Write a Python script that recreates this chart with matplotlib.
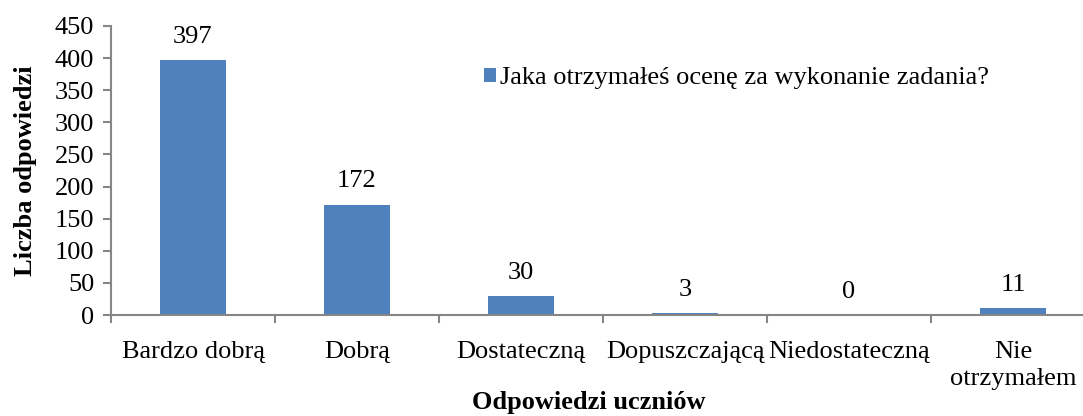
import matplotlib.pyplot as plt
import numpy as np
import matplotlib

matplotlib.rcParams.update({
    'font.family': 'serif',
    'font.serif': ['Liberation Serif', 'DejaVu Serif'],
    'font.size': 19,
})

categories = ['Bardzo dobrą', 'Dobrą', 'Dostateczną', 'Dopuszczającą',
              'Niedostateczną', 'Nie\notrzymałem']
values = [397, 172, 30, 3, 0, 11]
series_name = 'Jaka otrzymałeś ocenę za wykonanie zadania?'
yticks = np.arange(0, 451, 50)

bar_color = '#4F81BD'
axis_color = '#868686'

fig = plt.figure(figsize=(10.83, 4.16), dpi=100)
ax = fig.add_axes([111/1083, 1 - 315/416, (1095 - 111)/1083, (315 - 26)/416])

x = np.arange(len(categories))
bars = ax.bar(x, values, width=0.4, color=bar_color, label=series_name, zorder=2)

for xi, v in zip(x, values):
    ax.annotate(str(v), (xi, v), xytext=(0, 12.3), textcoords='offset points',
                ha='center', va='baseline')

ax.set_xlim(-0.5, len(categories) - 0.5)
ax.set_ylim(0, 450)
ax.set_yticks(yticks)

# category labels on minor ticks, separators on major ticks
ax.set_xticks(np.arange(-0.5, len(categories) + 0.5, 1))
ax.set_xticklabels([])
ax.set_xticks(x, minor=True)
ax.set_xticklabels(categories, minor=True, linespacing=1.3)
ax.tick_params(axis='x', which='minor', length=0, pad=19)
ax.tick_params(axis='x', which='major', length=6, width=1.5, color=axis_color)
ax.tick_params(axis='y', length=6, width=1.5, color=axis_color, pad=6)

for s in ['top', 'right']:
    ax.spines[s].set_visible(False)
for s in ['left', 'bottom']:
    ax.spines[s].set_color(axis_color)
    ax.spines[s].set_linewidth(1.5)

ax.set_ylabel('Liczba odpowiedzi', fontweight='bold', labelpad=13)
fig.text(589/1083, 1 - 402/416, 'Odpowiedzi uczniów', fontweight='bold',
         ha='center', va='center')

leg = ax.legend(loc='center left', bbox_to_anchor=(484/1083, 1 - 78/416),
                bbox_transform=fig.transFigure, frameon=False,
                handlelength=0.45, handleheight=0.45, handletextpad=0.15,
                borderaxespad=0, borderpad=0)

fig.savefig('out.png', dpi=100)
